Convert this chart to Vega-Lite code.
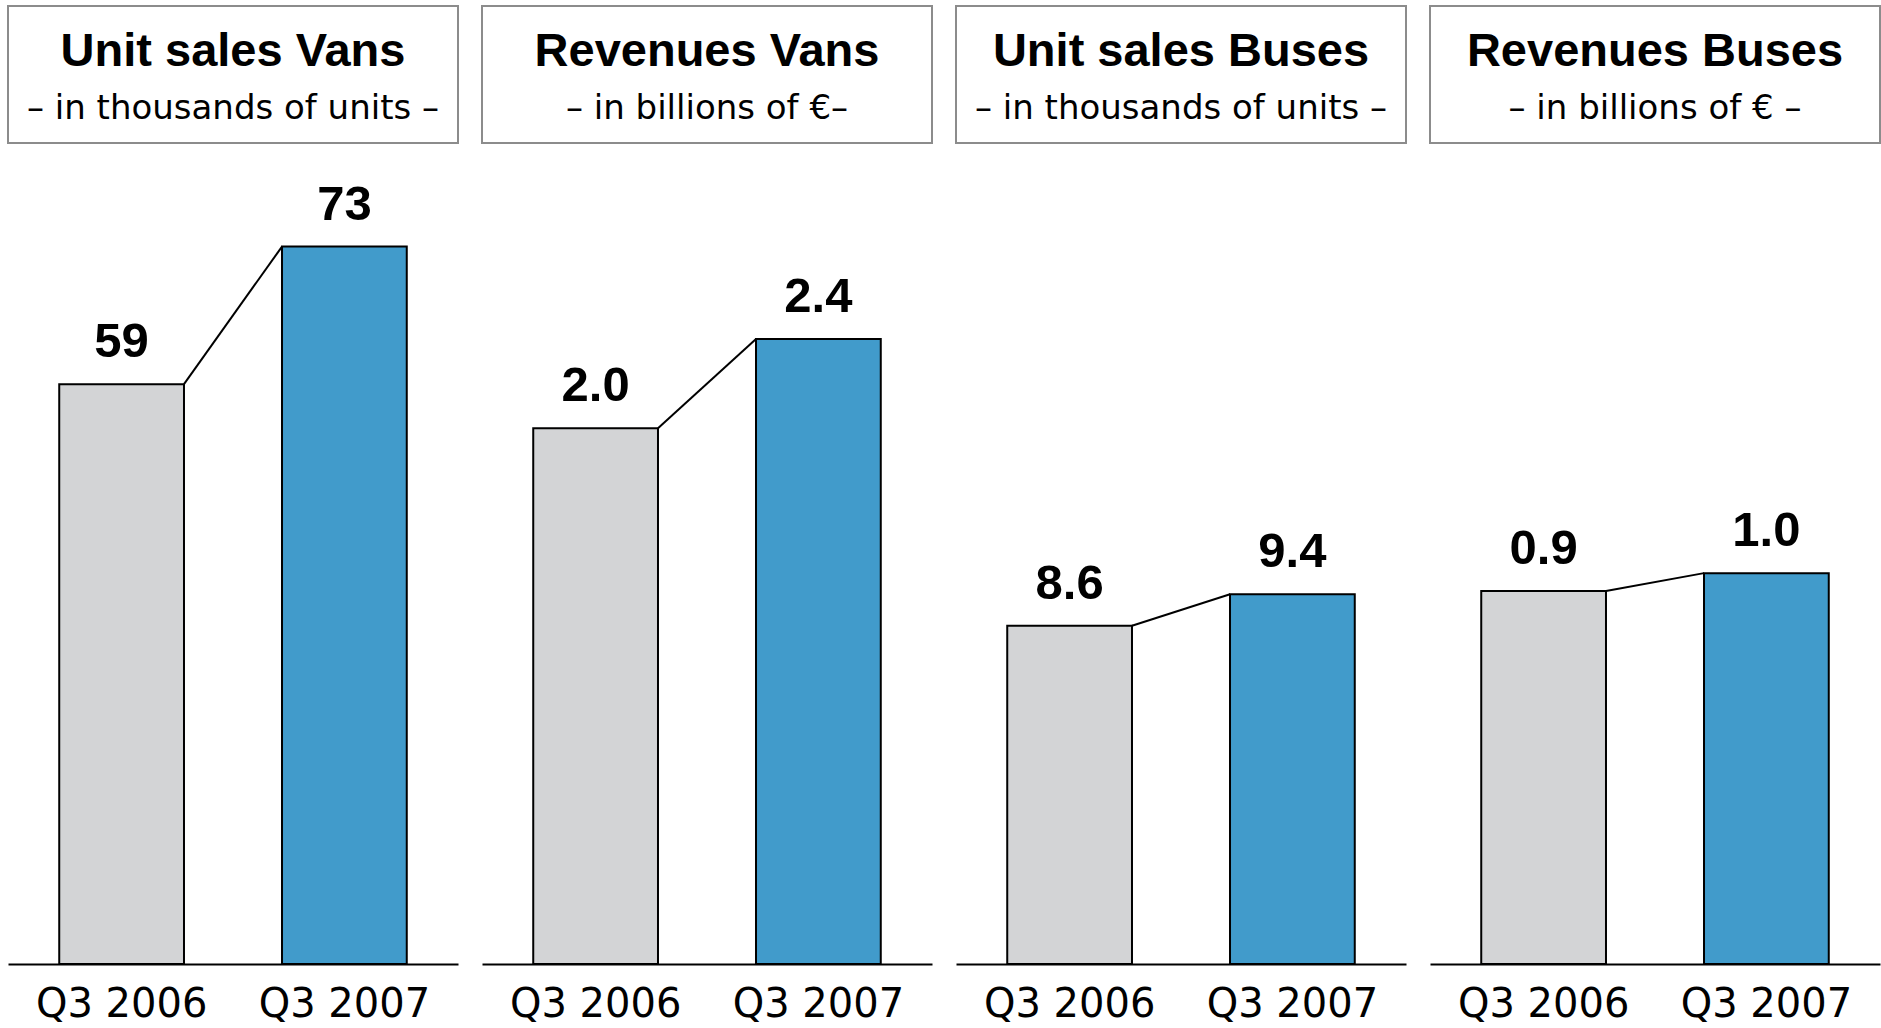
{
  "$schema": "https://vega.github.io/schema/vega-lite/v6.json",
  "background": "white",
  "padding": {"left": 7, "top": 5, "right": 0, "bottom": 0},
  "config": {
    "view": {"stroke": null},
    "axis": {"domainColor": "black", "domainWidth": 2, "ticks": false, "grid": false, "labelFont": "DejaVu Sans", "labelFontSize": 40, "labelColor": "black", "labelPadding": 20, "labelAngle": 0, "labelLimit": 0, "labelOverlap": false}
  },
  "datasets": {
    "bars": [
      {"panel": "Unit sales Vans", "period": "Q3 2006", "value": 59},
      {"panel": "Unit sales Vans", "period": "Q3 2007", "value": 73},
      {"panel": "Revenues Vans", "period": "Q3 2006", "value": 2.04},
      {"panel": "Revenues Vans", "period": "Q3 2007", "value": 2.38},
      {"panel": "Unit sales Buses", "period": "Q3 2006", "value": 8.6},
      {"panel": "Unit sales Buses", "period": "Q3 2007", "value": 9.4},
      {"panel": "Revenues Buses", "period": "Q3 2006", "value": 0.94},
      {"panel": "Revenues Buses", "period": "Q3 2007", "value": 0.985}
    ],
    "headers": [
      {"panel": "Unit sales Vans", "kind": "title", "line": "Unit sales Vans"},
      {"panel": "Unit sales Vans", "kind": "sub", "line": "– in thousands of units –"},
      {"panel": "Revenues Vans", "kind": "title", "line": "Revenues Vans"},
      {"panel": "Revenues Vans", "kind": "sub", "line": "– in billions of €–"},
      {"panel": "Unit sales Buses", "kind": "title", "line": "Unit sales Buses"},
      {"panel": "Unit sales Buses", "kind": "sub", "line": "– in thousands of units –"},
      {"panel": "Revenues Buses", "kind": "title", "line": "Revenues Buses"},
      {"panel": "Revenues Buses", "kind": "sub", "line": "– in billions of € –"}
    ]
  },
  "spacing": 22,
  "hconcat": [
    {
      "spacing": 20,
      "vconcat": [
        {
          "width": 450, "height": 137,
          "view": {"stroke": "#8c8c8c", "strokeWidth": 2},
          "data": {"name": "headers"},
          "transform": [{"filter": "datum.panel == 'Unit sales Vans'"}],
          "encoding": {
            "y": {"field": "kind", "type": "nominal", "sort": ["title", "sub"], "axis": null, "scale": {"type": "point", "padding": 0.792, "align": 0.714}},
            "text": {"field": "line"}
          },
          "layer": [
            {"transform": [{"filter": "datum.kind == 'title'"}], "mark": {"type": "text", "font": "Liberation Sans", "fontWeight": "bold", "fontSize": 47, "baseline": "alphabetic", "color": "black"}},
            {"transform": [{"filter": "datum.kind == 'sub'"}], "mark": {"type": "text", "font": "DejaVu Sans", "fontSize": 34, "baseline": "alphabetic", "color": "black"}}
          ]
        },
        {
          "width": 450, "height": 800,
          "data": {"name": "bars"},
          "transform": [{"filter": "datum.panel == 'Unit sales Vans'"}],
          "encoding": {
            "x": {"field": "period", "type": "nominal", "title": null, "scale": {"domain": ["Q3 2006", "Q3 2007"], "paddingInner": 0.44, "paddingOuter": 0.23}},
            "y": {"field": "value", "type": "quantitative", "scale": {"domain": [0, 81.4]}, "axis": null}
          },
          "layer": [
            {"mark": {"type": "bar", "stroke": "black", "strokeWidth": 2}, "encoding": {"color": {"field": "period", "type": "nominal", "scale": {"domain": ["Q3 2006", "Q3 2007"], "range": ["#d3d4d6", "#419bcb"]}, "legend": null}}},
            {"mark": {"type": "text", "font": "Liberation Sans", "fontWeight": "bold", "fontSize": 49, "baseline": "alphabetic", "dy": -27, "color": "black"}, "encoding": {"text": {"field": "value", "type": "quantitative", "format": ".0f"}}},
            {
              "transform": [
                {"window": [{"op": "lead", "field": "period", "as": "nextPeriod"}, {"op": "lead", "field": "value", "as": "nextValue"}], "sort": [{"field": "period"}]},
                {"filter": "datum.nextPeriod != null"}
              ],
              "mark": {"type": "rule", "color": "black", "strokeWidth": 2},
              "encoding": {
                "x": {"field": "period", "type": "nominal", "title": null, "bandPosition": 1},
                "x2": {"field": "nextPeriod", "bandPosition": 0},
                "y2": {"field": "nextValue"}
              }
            }
          ]
        }
      ]
    },
    {
      "spacing": 20,
      "vconcat": [
        {
          "width": 450, "height": 137,
          "view": {"stroke": "#8c8c8c", "strokeWidth": 2},
          "data": {"name": "headers"},
          "transform": [{"filter": "datum.panel == 'Revenues Vans'"}],
          "encoding": {
            "y": {"field": "kind", "type": "nominal", "sort": ["title", "sub"], "axis": null, "scale": {"type": "point", "padding": 0.792, "align": 0.714}},
            "text": {"field": "line"}
          },
          "layer": [
            {"transform": [{"filter": "datum.kind == 'title'"}], "mark": {"type": "text", "font": "Liberation Sans", "fontWeight": "bold", "fontSize": 47, "baseline": "alphabetic", "color": "black"}},
            {"transform": [{"filter": "datum.kind == 'sub'"}], "mark": {"type": "text", "font": "DejaVu Sans", "fontSize": 34, "baseline": "alphabetic", "color": "black"}}
          ]
        },
        {
          "width": 450, "height": 800,
          "data": {"name": "bars"},
          "transform": [{"filter": "datum.panel == 'Revenues Vans'"}],
          "encoding": {
            "x": {"field": "period", "type": "nominal", "title": null, "scale": {"domain": ["Q3 2006", "Q3 2007"], "paddingInner": 0.44, "paddingOuter": 0.23}},
            "y": {"field": "value", "type": "quantitative", "scale": {"domain": [0, 3.046]}, "axis": null}
          },
          "layer": [
            {"mark": {"type": "bar", "stroke": "black", "strokeWidth": 2}, "encoding": {"color": {"field": "period", "type": "nominal", "scale": {"domain": ["Q3 2006", "Q3 2007"], "range": ["#d3d4d6", "#419bcb"]}, "legend": null}}},
            {"mark": {"type": "text", "font": "Liberation Sans", "fontWeight": "bold", "fontSize": 49, "baseline": "alphabetic", "dy": -27, "color": "black"}, "encoding": {"text": {"field": "value", "type": "quantitative", "format": ".1f"}}},
            {
              "transform": [
                {"window": [{"op": "lead", "field": "period", "as": "nextPeriod"}, {"op": "lead", "field": "value", "as": "nextValue"}], "sort": [{"field": "period"}]},
                {"filter": "datum.nextPeriod != null"}
              ],
              "mark": {"type": "rule", "color": "black", "strokeWidth": 2},
              "encoding": {
                "x": {"field": "period", "type": "nominal", "title": null, "bandPosition": 1},
                "x2": {"field": "nextPeriod", "bandPosition": 0},
                "y2": {"field": "nextValue"}
              }
            }
          ]
        }
      ]
    },
    {
      "spacing": 20,
      "vconcat": [
        {
          "width": 450, "height": 137,
          "view": {"stroke": "#8c8c8c", "strokeWidth": 2},
          "data": {"name": "headers"},
          "transform": [{"filter": "datum.panel == 'Unit sales Buses'"}],
          "encoding": {
            "y": {"field": "kind", "type": "nominal", "sort": ["title", "sub"], "axis": null, "scale": {"type": "point", "padding": 0.792, "align": 0.714}},
            "text": {"field": "line"}
          },
          "layer": [
            {"transform": [{"filter": "datum.kind == 'title'"}], "mark": {"type": "text", "font": "Liberation Sans", "fontWeight": "bold", "fontSize": 47, "baseline": "alphabetic", "color": "black"}},
            {"transform": [{"filter": "datum.kind == 'sub'"}], "mark": {"type": "text", "font": "DejaVu Sans", "fontSize": 34, "baseline": "alphabetic", "color": "black"}}
          ]
        },
        {
          "width": 450, "height": 800,
          "data": {"name": "bars"},
          "transform": [{"filter": "datum.panel == 'Unit sales Buses'"}],
          "encoding": {
            "x": {"field": "period", "type": "nominal", "title": null, "scale": {"domain": ["Q3 2006", "Q3 2007"], "paddingInner": 0.44, "paddingOuter": 0.23}},
            "y": {"field": "value", "type": "quantitative", "scale": {"domain": [0, 20.34]}, "axis": null}
          },
          "layer": [
            {"mark": {"type": "bar", "stroke": "black", "strokeWidth": 2}, "encoding": {"color": {"field": "period", "type": "nominal", "scale": {"domain": ["Q3 2006", "Q3 2007"], "range": ["#d3d4d6", "#419bcb"]}, "legend": null}}},
            {"mark": {"type": "text", "font": "Liberation Sans", "fontWeight": "bold", "fontSize": 49, "baseline": "alphabetic", "dy": -27, "color": "black"}, "encoding": {"text": {"field": "value", "type": "quantitative", "format": ".1f"}}},
            {
              "transform": [
                {"window": [{"op": "lead", "field": "period", "as": "nextPeriod"}, {"op": "lead", "field": "value", "as": "nextValue"}], "sort": [{"field": "period"}]},
                {"filter": "datum.nextPeriod != null"}
              ],
              "mark": {"type": "rule", "color": "black", "strokeWidth": 2},
              "encoding": {
                "x": {"field": "period", "type": "nominal", "title": null, "bandPosition": 1},
                "x2": {"field": "nextPeriod", "bandPosition": 0},
                "y2": {"field": "nextValue"}
              }
            }
          ]
        }
      ]
    },
    {
      "spacing": 20,
      "vconcat": [
        {
          "width": 450, "height": 137,
          "view": {"stroke": "#8c8c8c", "strokeWidth": 2},
          "data": {"name": "headers"},
          "transform": [{"filter": "datum.panel == 'Revenues Buses'"}],
          "encoding": {
            "y": {"field": "kind", "type": "nominal", "sort": ["title", "sub"], "axis": null, "scale": {"type": "point", "padding": 0.792, "align": 0.714}},
            "text": {"field": "line"}
          },
          "layer": [
            {"transform": [{"filter": "datum.kind == 'title'"}], "mark": {"type": "text", "font": "Liberation Sans", "fontWeight": "bold", "fontSize": 47, "baseline": "alphabetic", "color": "black"}},
            {"transform": [{"filter": "datum.kind == 'sub'"}], "mark": {"type": "text", "font": "DejaVu Sans", "fontSize": 34, "baseline": "alphabetic", "color": "black"}}
          ]
        },
        {
          "width": 450, "height": 800,
          "data": {"name": "bars"},
          "transform": [{"filter": "datum.panel == 'Revenues Buses'"}],
          "encoding": {
            "x": {"field": "period", "type": "nominal", "title": null, "scale": {"domain": ["Q3 2006", "Q3 2007"], "paddingInner": 0.44, "paddingOuter": 0.23}},
            "y": {"field": "value", "type": "quantitative", "scale": {"domain": [0, 2.016]}, "axis": null}
          },
          "layer": [
            {"mark": {"type": "bar", "stroke": "black", "strokeWidth": 2}, "encoding": {"color": {"field": "period", "type": "nominal", "scale": {"domain": ["Q3 2006", "Q3 2007"], "range": ["#d3d4d6", "#419bcb"]}, "legend": null}}},
            {"mark": {"type": "text", "font": "Liberation Sans", "fontWeight": "bold", "fontSize": 49, "baseline": "alphabetic", "dy": -27, "color": "black"}, "encoding": {"text": {"field": "value", "type": "quantitative", "format": ".1f"}}},
            {
              "transform": [
                {"window": [{"op": "lead", "field": "period", "as": "nextPeriod"}, {"op": "lead", "field": "value", "as": "nextValue"}], "sort": [{"field": "period"}]},
                {"filter": "datum.nextPeriod != null"}
              ],
              "mark": {"type": "rule", "color": "black", "strokeWidth": 2},
              "encoding": {
                "x": {"field": "period", "type": "nominal", "title": null, "bandPosition": 1},
                "x2": {"field": "nextPeriod", "bandPosition": 0},
                "y2": {"field": "nextValue"}
              }
            }
          ]
        }
      ]
    }
  ]
}
